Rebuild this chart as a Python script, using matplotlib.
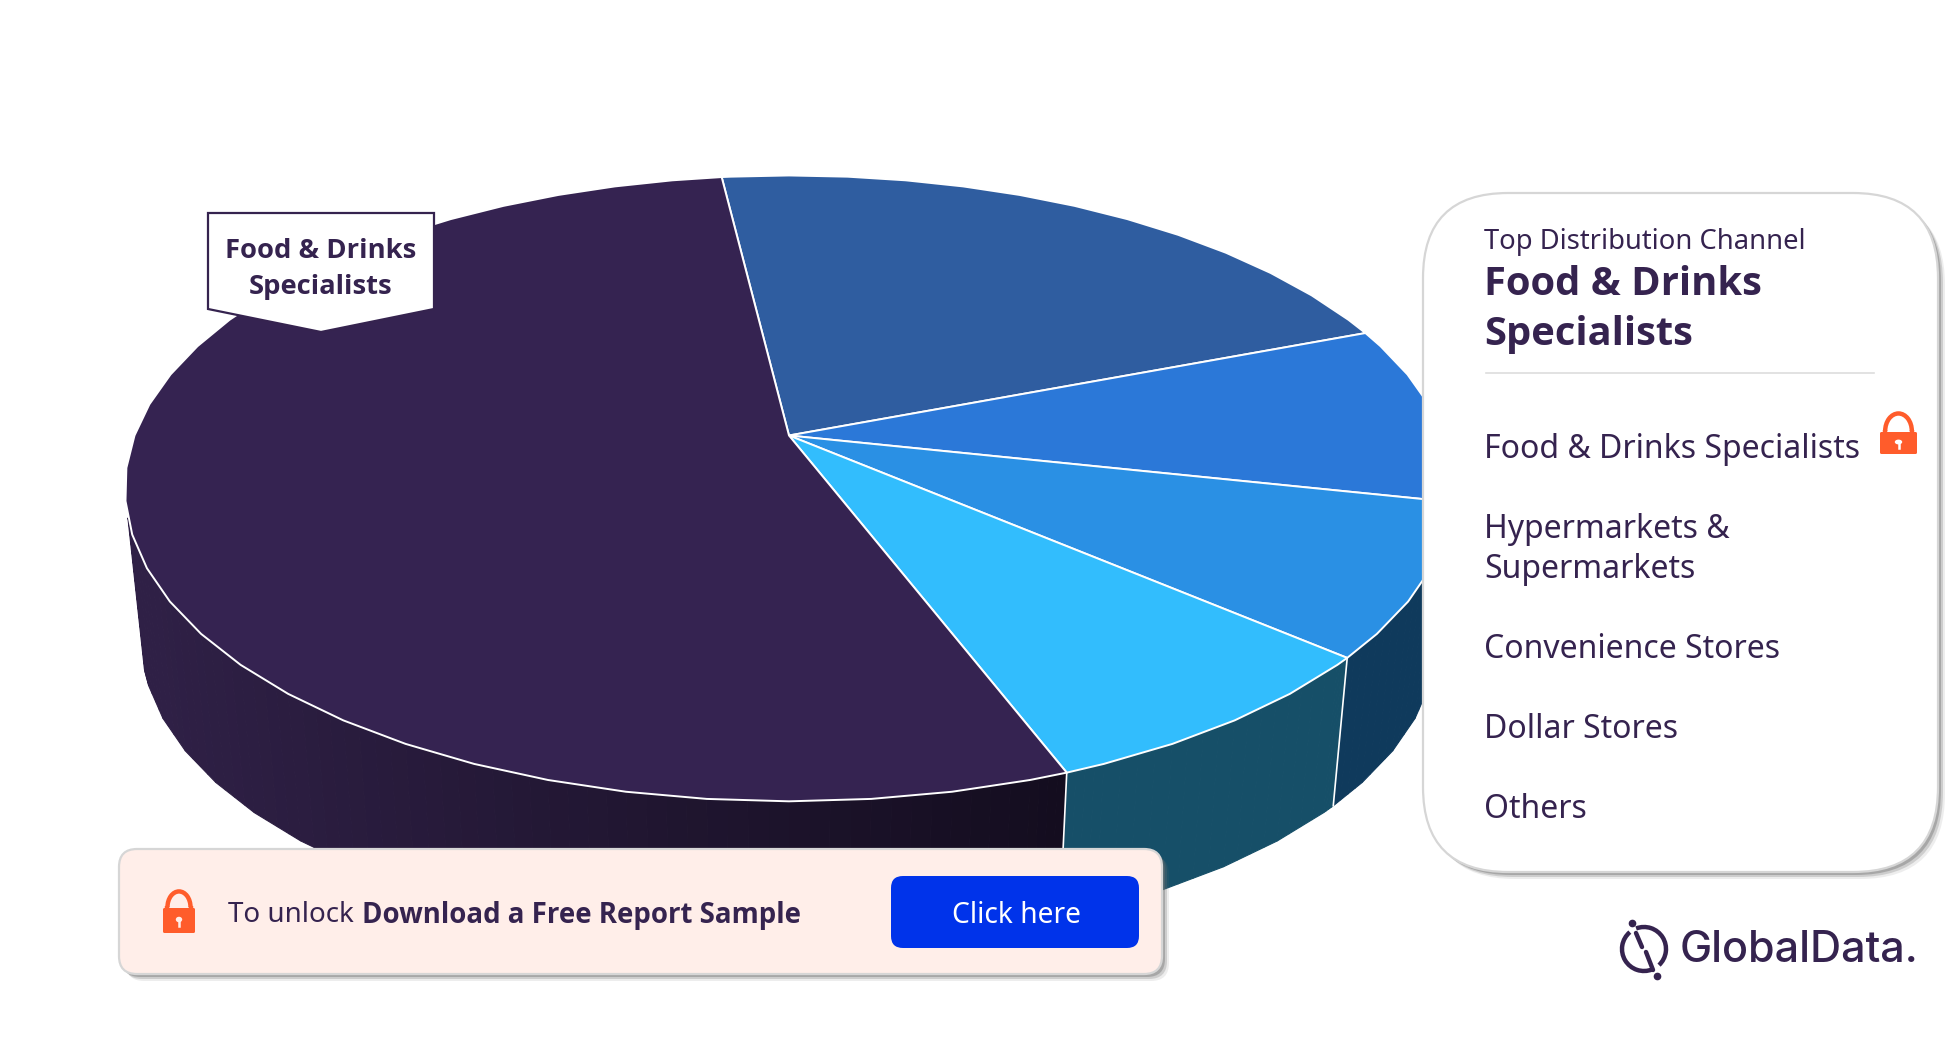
import numpy as np
import matplotlib
matplotlib.use("Agg")
import matplotlib.pyplot as plt
from matplotlib import patches

channels = ["Hypermarkets & Supermarkets", "Convenience Stores", "Dollar Stores", "Others", "Food & Drinks Specialists"]
shares = [21.1, 9.2, 7.9, 7.9, 53.9]
top_colors = ["#2f5da0", "#2b78d8", "#2a90e4", "#32bdfd", "#352351"]
wall_colors = ["#16304f", "#153a66", "#0f3a5c", "#164f68", None]

list_labels = ["Food & Drinks Specialists", "Hypermarkets &\nSupermarkets", "Convenience Stores", "Dollar Stores", "Others"]
list_y = [449.5, 549.5, 649.5, 729.5, 809.5]

INK = "#35234f"
ORANGE = "#ff5c2b"
FONT = "Noto Sans"
BOLD_FONT = "Open Sans"

plt.rcParams["font.family"] = [FONT, "DejaVu Sans"]

# pie is a tilted circle, so the apex sits above the middle of the ellipse
CX, CY = 789, 435.5
RX, RY, K = 654.5, 304, -0.169
START = -6.9
FACET = 6
WALL_SCALE, WALL_Y = 0.975, 589
WALL_FROM, WALL_TO = 105, 255


def project(theta):
    # theta in degrees, clockwise from the top
    t = np.radians(theta)
    u, v = np.sin(t), -np.cos(t)
    d = 1 + K * v
    return CX + RX * u / d, CY + RY * v / d


def facets(a, b):
    # the outline of the pie is made of short straight pieces
    inner = np.arange(np.ceil(a / FACET), np.floor(b / FACET) + 1) * FACET
    inner = inner[(inner > a) & (inner < b)]
    return np.r_[a, inner, b]


def wall_point(x, y):
    return CX + WALL_SCALE * (x - CX), WALL_Y + WALL_SCALE * (y - CY)


def purple_shade(x):
    f = np.clip((x - 145) / (1060 - 145), 0, 1)
    c0 = np.array(matplotlib.colors.to_rgb("#2f2046"))
    c1 = np.array(matplotlib.colors.to_rgb("#140d1f"))
    return c0 + (c1 - c0) * f


def bold_text(ax, x, y, s, size, **kw):
    return ax.text(x, y, s, va="center", fontsize=size, color=INK, family=BOLD_FONT, fontweight="bold",
                   zorder=kw.pop("zorder", 6), **kw)


def rounded(ax, x0, y0, x1, y1, r, **kw):
    box = patches.FancyBboxPatch((x0 + r, y0 + r), x1 - x0 - 2 * r, y1 - y0 - 2 * r,
                                 boxstyle=f"round,pad={r},rounding_size={r}", **kw)
    ax.add_patch(box)
    return box


def shadow_box(ax, x0, y0, x1, y1, r, fc, z):
    for off, alpha in [(7, 0.12), (5, 0.25), (3, 0.4)]:
        rounded(ax, x0 + off, y0 + off, x1 + off, y1 + off, r, fc="#707070", ec="none", alpha=alpha, zorder=z)
    rounded(ax, x0, y0, x1, y1, r, fc=fc, ec="#d6d6d6", lw=1.6, zorder=z + 0.1)


def draw_lock(ax, x0, x1, y0, y_body, y1, bg, z):
    w = x1 - x0
    rounded(ax, x0, y_body, x1, y1, 1.5, fc=ORANGE, ec="none", zorder=z)
    xc = (x0 + x1) / 2
    ax.add_patch(patches.Arc((xc, y0 + (y_body - y0) * 0.95), w * 0.72, (y_body - y0) * 1.85, theta1=180, theta2=360,
                             ec=ORANGE, lw=3.2, zorder=z))
    for side in (-0.36, 0.36):
        ax.plot([xc + side * w] * 2, [y0 + (y_body - y0) * 0.9, y_body + 1], color=ORANGE, lw=3.2, zorder=z, solid_capstyle="butt")
    ym = (y_body + y1) / 2
    ax.add_patch(patches.Ellipse((xc, ym - 1), w * 0.2, (y1 - y_body) * 0.22, fc=bg, ec="none", zorder=z + 0.1))
    ax.plot([xc, xc], [ym - 1, ym + 5], color=bg, lw=1.8, zorder=z + 0.1)


fig = plt.figure(figsize=(19.51, 10.44), dpi=100)
ax = fig.add_axes([0, 0, 1, 1])
ax.set_xlim(0, 1951)
ax.set_ylim(1044, 0)
ax.axis("off")

# slice boundaries from the shares
edges = START + np.cumsum([0] + shares) * 360 / sum(shares)

# side wall, only the part facing the viewer
for i, share in enumerate(shares):
    lo, hi = max(edges[i], WALL_FROM), min(edges[i + 1], WALL_TO)
    if hi <= lo:
        continue
    th = facets(lo, hi)
    xs, ys = project(th)
    for j in range(len(th) - 1):
        # a few strips per facet to carry the shading of the purple wall
        ft = np.linspace(0, 1, 5)
        sx = xs[j] + (xs[j + 1] - xs[j]) * ft
        sy = ys[j] + (ys[j + 1] - ys[j]) * ft
        for k in range(4):
            bx0, by0 = wall_point(sx[k], sy[k])
            bx1, by1 = wall_point(sx[k + 1], sy[k + 1])
            col = wall_colors[i] if wall_colors[i] else purple_shade((sx[k] + sx[k + 1]) / 2)
            ax.add_patch(patches.Polygon([(sx[k], sy[k]), (sx[k + 1], sy[k + 1]), (bx1, by1), (bx0, by0)],
                                         fc=col, ec=col, lw=0.8, zorder=1))

# wall seams
for e in edges[3:5]:
    x, y = project(e)
    xb, yb = wall_point(x, y)
    ax.plot([x, xb], [y, yb], color="white", lw=1.2, zorder=1.5)

# top face
for i, share in enumerate(shares):
    th = facets(edges[i], edges[i + 1])
    x, y = project(th)
    pts = np.column_stack([np.r_[CX, x], np.r_[CY, y]])
    ax.add_patch(patches.Polygon(pts, fc=top_colors[i], ec="white", lw=1.4, joinstyle="round", zorder=2))

# callout on the biggest slice
callout = [(208, 213), (434, 213), (434, 309), (321, 332), (208, 309)]
ax.add_patch(patches.Polygon(callout, closed=True, fc="white", ec=INK, lw=1.6, zorder=3))
bold_text(ax, 321, 251, "Food & Drinks", 19.7, ha="center", zorder=4)
bold_text(ax, 321, 286.5, "Specialists", 19.7, ha="center", zorder=4)

# right panel
shadow_box(ax, 1423, 193, 1938, 872, 85, "white", 5)
ax.text(1484, 241.5, "Top Distribution Channel", va="center", fontsize=19.7, color=INK, zorder=6)
bold_text(ax, 1484, 284.5, "Food & Drinks", 28.7)
bold_text(ax, 1484, 334.5, "Specialists", 28.7)
ax.plot([1486, 1874], [373, 373], color="#dddddd", lw=1.2, zorder=6)
for label, y in zip(list_labels, list_y):
    ax.text(1484, y, label, va="center", fontsize=23, color=INK, linespacing=1.27, zorder=6)
draw_lock(ax, 1880, 1917, 413, 432, 454, "white", 6)

# bottom banner
shadow_box(ax, 119, 849, 1162, 974, 18, "#ffeee9", 5)
rounded(ax, 891, 876, 1139, 948, 12, fc="#0033ea", ec="none", zorder=6)
ax.text(228, 915.5, "To unlock", va="center", fontsize=20, color=INK, zorder=6)
bold_text(ax, 362, 915.5, "Download a Free Report Sample", 19.9)
ax.text(1016, 915.5, "Click here", ha="center", va="center", fontsize=20.3, color="white", zorder=6)
draw_lock(ax, 163, 195, 891, 908, 933, "#ffeee9", 6)

# logo
for t1, t2 in [(-111, 47), (68, 230)]:
    ax.add_patch(patches.Arc((1644, 949), 44, 44, theta1=t1, theta2=t2, ec=INK, lw=3.2, zorder=6))
ax.plot([1636, 1642], [933, 947], color=INK, lw=3.2, solid_capstyle="round", zorder=6)
ax.plot([1646, 1653], [952, 970], color=INK, lw=3.2, solid_capstyle="round", zorder=6)
ax.plot([1632, 1657], [923, 976], ls="none", marker="o", ms=4.5, color=INK, zorder=6)
ax.text(1680, 951, "GlobalData.", va="center", fontsize=31, fontweight="medium", family="Inter", color=INK, zorder=6)

fig.savefig("out.png", dpi=100, facecolor="white")
